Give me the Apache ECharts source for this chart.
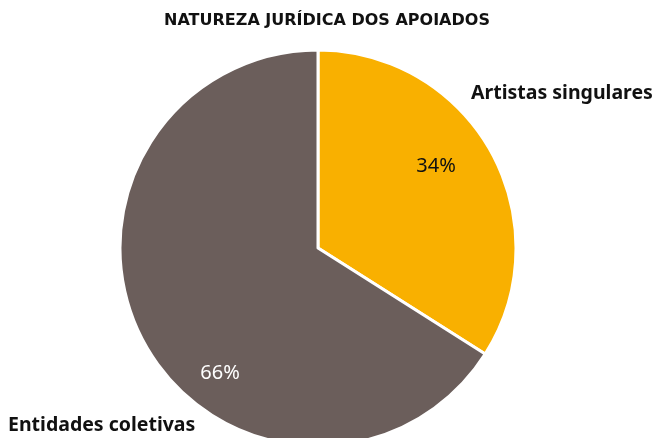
<!DOCTYPE html>
<html>
<head>
<meta charset="utf-8">
<script src="https://cdn.jsdelivr.net/npm/echarts@6/dist/echarts.min.js"></script>
<style>
  html, body { margin: 0; padding: 0; background: #fff; }
  #chart { width: 654px; height: 438px; }
</style>
</head>
<body>
<div id="chart"></div>
<script>
// dados
const categories = ["Artistas singulares", "Entidades coletivas"];
const values = [34, 66];
const colors = ["#F9B000", "#6B5E5B"];

// posições das etiquetas (percentagem e nome)
const pctPos = [[436, 166], [220, 373]];
const pctColor = ["#111", "#fff"];
const namePos = [[471, 93], [8, 425]];

const chart = echarts.init(document.getElementById("chart"));
const font = "'Noto Sans', sans-serif";

chart.setOption({
  animation: false,
  title: {
    text: "NATUREZA JURÍDICA DOS APOIADOS",
    left: "center",
    top: 8,
    textStyle: { fontFamily: "'DejaVu Sans', sans-serif", fontSize: 16, fontWeight: "bold", color: "#111" }
  },
  series: [
    {
      type: "pie",
      center: [318, 248],
      radius: [0, 198],
      startAngle: 90,
      clockwise: true,
      itemStyle: { borderColor: "#fff", borderWidth: 3 },
      data: categories.map((c, i) => ({
        name: c,
        value: values[i],
        itemStyle: { color: colors[i] },
        label: { color: pctColor[i] }
      })),
      label: {
        show: true,
        position: "inside",
        formatter: "{d}%",
        fontFamily: font,
        fontSize: 20,
        fontWeight: "normal"
      },
      labelLine: { show: false },
      labelLayout: p => ({
        x: pctPos[p.dataIndex][0],
        y: pctPos[p.dataIndex][1],
        align: "center",
        verticalAlign: "middle"
      })
    },
    {
      // série transparente só para os nomes
      type: "pie",
      center: [318, 248],
      radius: [0, 198],
      startAngle: 90,
      silent: true,
      itemStyle: { color: "transparent", borderWidth: 0 },
      data: categories.map((c, i) => ({ name: c, value: values[i] })),
      label: {
        show: true,
        position: "outside",
        formatter: "{b}",
        overflow: "none",
        width: 300,
        fontFamily: font,
        fontSize: 19.5,
        fontWeight: "bold",
        color: "#111"
      },
      labelLine: { show: false },
      labelLayout: p => ({
        x: namePos[p.dataIndex][0],
        y: namePos[p.dataIndex][1],
        align: "left",
        verticalAlign: "middle"
      })
    }
  ]
});
</script>
</body>
</html>
